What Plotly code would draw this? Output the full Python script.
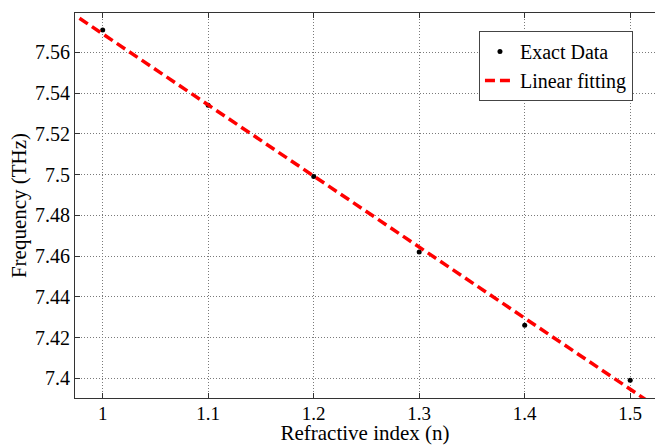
import numpy as np
import plotly.graph_objects as go

# ---- data ----
refractive_index = [1.0, 1.1, 1.2, 1.3, 1.4, 1.5]
frequency_thz = [7.571, 7.534, 7.499, 7.462, 7.426, 7.399]
fit_x_range = [0.978, 1.516]

x_tick_vals = [1.0, 1.1, 1.2, 1.3, 1.4, 1.5]
x_tick_text = ["1", "1.1", "1.2", "1.3", "1.4", "1.5"]
y_tick_vals = [7.40, 7.42, 7.44, 7.46, 7.48, 7.50, 7.52, 7.54, 7.56]
y_tick_text = ["7.4", "7.42", "7.44", "7.46", "7.48", "7.5", "7.52", "7.54", "7.56"]

# linear fit of the exact data
slope, intercept = np.polyfit(refractive_index, frequency_thz, 1)
fit_x = np.array(fit_x_range)
fit_y = slope * fit_x + intercept

FONT = "Liberation Serif"

fig = go.Figure()
fig.add_trace(go.Scatter(
    x=refractive_index, y=frequency_thz, mode="markers", name="Exact Data",
    marker=dict(color="black", size=5),
))
fig.add_trace(go.Scatter(
    x=fit_x, y=fit_y, mode="lines", name="Linear fitting",
    line=dict(color="#ff0000", width=3.5, dash="10px,5px"),
))

axis_common = dict(
    showline=True, linecolor="#333333", linewidth=1,
    ticks="inside", ticklen=5, tickcolor="#333333",
    showgrid=True, gridcolor="#7a7a7a", gridwidth=1, griddash="1px,2px",
    zeroline=False,
)

fig.update_xaxes(
    range=[0.97374, 1.5235], tickvals=x_tick_vals, ticktext=x_tick_text,
    mirror="ticks", ticklabelstandoff=-2,
    tickfont=dict(family=FONT, size=19, color="black"),
    title=dict(text="Refractive index (n)", font=dict(family=FONT, size=21, color="black"), standoff=3),
    **axis_common,
)
fig.update_yaxes(
    range=[7.3903, 7.5793], tickvals=y_tick_vals, ticktext=y_tick_text,
    mirror=False,
    tickfont=dict(family=FONT, size=20, color="black"),
    title=dict(text="Frequency (THz)", font=dict(family=FONT, size=21, color="black"), standoff=2),
    **axis_common,
)

fig.update_layout(
    width=655, height=445,
    margin=dict(l=75, r=0, t=13, b=47),
    paper_bgcolor="white", plot_bgcolor="white",
    font=dict(family=FONT, size=20, color="black"),
    legend=dict(
        x=0.962, xanchor="right", y=0.953, yanchor="top",
        bgcolor="white", bordercolor="#444444", borderwidth=1,
        font=dict(family=FONT, size=20, color="black"),
        tracegroupgap=0,
    ),
    showlegend=True,
)

fig.write_html("out.html")
